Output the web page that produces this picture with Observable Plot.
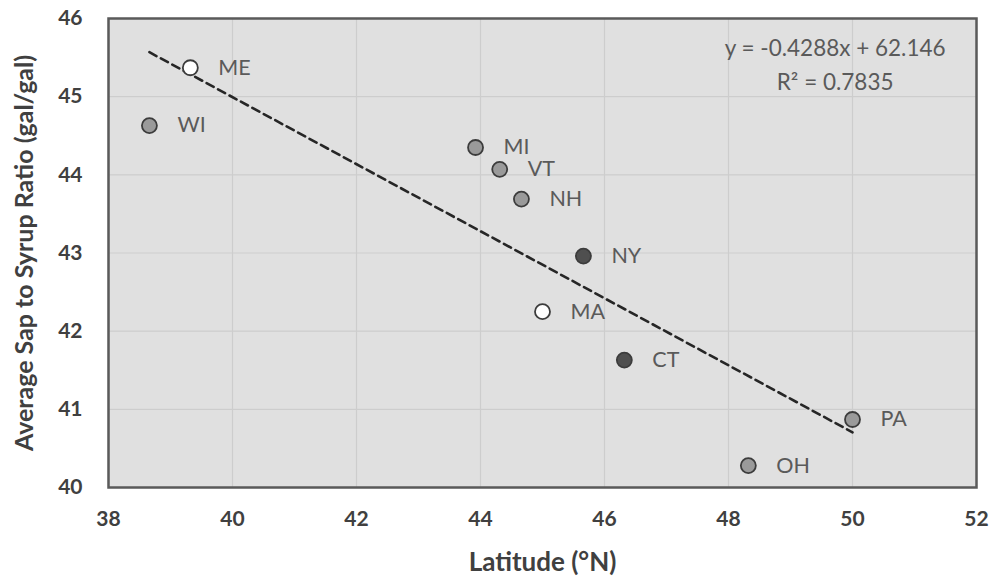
<!DOCTYPE html>
<html><head><meta charset="utf-8">
<script src="https://cdn.jsdelivr.net/npm/d3@7"></script>
<script src="https://cdn.jsdelivr.net/npm/@observablehq/plot@0.6"></script>
<style>body{margin:0;background:#fff;} svg{display:block;}</style>
</head><body><div id="chart"></div>
<script>
const states = ["ME","WI","MI","VT","NH","NY","MA","CT","PA","OH"];
const latitude = [39.32, 38.66, 43.92, 44.31, 44.66, 45.66, 45.0, 46.32, 50.0, 48.32];
const ratio = [45.37, 44.63, 44.35, 44.07, 43.69, 42.96, 42.25, 41.63, 40.87, 40.28];
const shade = ["white","mid","mid","mid","mid","dark","white","dark","mid","mid"];
const xTicks = [38, 40, 42, 44, 46, 48, 50, 52];
const yTicks = [40, 41, 42, 43, 44, 45, 46];
const slope = -0.4288, intercept = 62.146;
const eqLines = ["y = -0.4288x + 62.146", "R² = 0.7835"];
const xTitle = "Latitude (°N)";
const yTitle = "Average Sap to Syrup Ratio (gal/gal)";

const data = states.map((s, i) => ({state: s, lat: latitude[i], ratio: ratio[i], shade: shade[i]}));
const fills = {white: "#ffffff", mid: "#9a9a9a", dark: "#4f4f4f"};
const xmin = d3.min(latitude), xmax = d3.max(latitude);
const trend = [xmin, xmax].map(x => ({lat: x, ratio: slope * x + intercept}));

const chart = Plot.plot({
  width: 999, height: 579,
  marginLeft: 108, marginRight: 23, marginTop: 18, marginBottom: 92,
  style: {fontFamily: "Lato, 'Open Sans', sans-serif", background: "#fff"},
  x: {domain: [38, 52], ticks: xTicks},
  y: {domain: [40, 46], ticks: yTicks},
  marks: [
    Plot.frame({fill: "#e0e0e0", stroke: null}),
    Plot.gridX(xTicks, {stroke: "#cdcdcd", strokeOpacity: 1, strokeWidth: 1.2}),
    Plot.gridY(yTicks, {stroke: "#cdcdcd", strokeOpacity: 1, strokeWidth: 1.2}),
    Plot.frame({stroke: "#5a5a5a", strokeWidth: 2.5}),
    Plot.axisX({ticks: xTicks, tickSize: 0, tickPadding: 24, fontSize: 21, fontWeight: "bold", fill: "#404040",
      tickFormat: d3.format("d"), label: null}),
    Plot.axisY({ticks: yTicks, tickSize: 0, tickPadding: 26, fontSize: 21, fontWeight: "bold", fill: "#404040",
      tickFormat: d3.format("d"), label: null}),
    Plot.text([xTitle], {frameAnchor: "bottom", dy: 75, text: d => d, fontSize: 26, fontWeight: "bold", fill: "#404040", lineAnchor: "middle"}),
    Plot.text([yTitle], {frameAnchor: "left", dx: -84, dy: 0, rotate: -90, textAnchor: "middle", lineAnchor: "middle", text: d => d, fontSize: 25, fontWeight: "bold", fill: "#404040"}),
    Plot.line(trend, {x: "lat", y: "ratio", stroke: "#262626", strokeWidth: 2.6, strokeDasharray: "8,5"}),
    Plot.dot(data, {x: "lat", y: "ratio", r: 7.5, fill: d => fills[d.shade], stroke: "#3c3c3c", strokeWidth: 1.8}),
    Plot.text(data, {x: "lat", y: "ratio", text: "state", dx: 28, textAnchor: "start", fontSize: 21.5, fill: "#5a5a5a"}),
    Plot.text(eqLines, {x: 49.72, y: (d, i) => 45.61 - i * 0.43, text: d => d, fontSize: 22.5, fill: "#5a5a5a", textAnchor: "middle"})
  ]
});
document.getElementById("chart").append(chart);
</script>
</body></html>
